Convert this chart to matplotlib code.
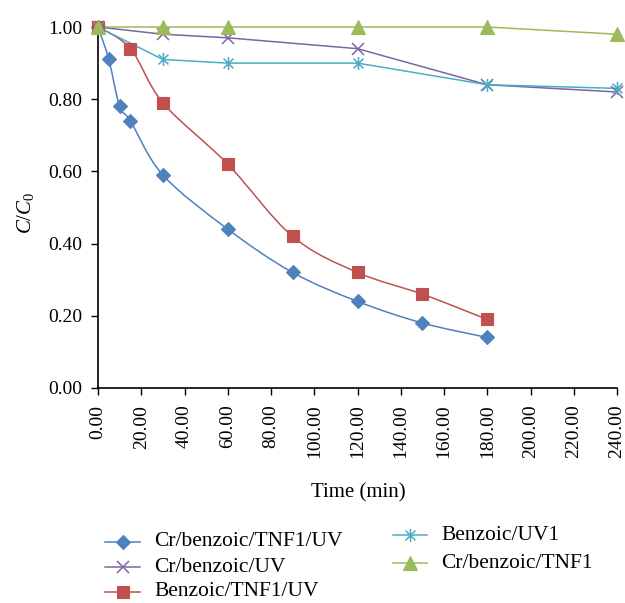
import numpy as np
import matplotlib
matplotlib.use("Agg")
import matplotlib.pyplot as plt
from matplotlib.path import Path
from matplotlib.patches import PathPatch
from matplotlib.lines import Line2D

plt.rcParams['font.family'] = ['Liberation Serif', 'DejaVu Serif']
plt.rcParams['mathtext.fontset'] = 'custom'
plt.rcParams['mathtext.rm'] = 'Liberation Serif'
plt.rcParams['mathtext.it'] = 'Liberation Serif:italic'

# Series data: time (min) and C/C0
t_cr_tnf_uv = [0, 5, 10, 15, 30, 60, 90, 120, 150, 180]
y_cr_tnf_uv = [1.00, 0.91, 0.78, 0.74, 0.59, 0.44, 0.32, 0.24, 0.18, 0.14]

t_cr_uv = [0, 30, 60, 120, 180, 240]
y_cr_uv = [1.00, 0.98, 0.97, 0.94, 0.84, 0.82]

t_bz_tnf_uv = [0, 15, 30, 60, 90, 120, 150, 180]
y_bz_tnf_uv = [1.00, 0.94, 0.79, 0.62, 0.42, 0.32, 0.26, 0.19]

t_bz_uv = [0, 30, 60, 120, 180, 240]
y_bz_uv = [1.00, 0.91, 0.90, 0.90, 0.84, 0.83]

t_cr_tnf = [0, 30, 60, 120, 180, 240]
y_cr_tnf = [1.00, 1.00, 1.00, 1.00, 1.00, 0.98]

x_ticks = np.arange(0, 241, 20)
y_ticks = np.arange(0, 1.01, 0.2)

# Six-armed asterisk marker (x plus vertical stroke)
star = Path([(0, -1), (0, 1), (-0.75, -0.75), (0.75, 0.75), (-0.75, 0.75), (0.75, -0.75)],
            [Path.MOVETO, Path.LINETO, Path.MOVETO, Path.LINETO, Path.MOVETO, Path.LINETO])

# label, x, y, colour, marker, size, smooth line
series = [
    ("Cr/benzoic/TNF1/UV", t_cr_tnf_uv, y_cr_tnf_uv, "#4F81BD", "D", 7, True),
    ("Cr/benzoic/UV", t_cr_uv, y_cr_uv, "#8064A2", "x", 8.5, False),
    ("Benzoic/TNF1/UV", t_bz_tnf_uv, y_bz_tnf_uv, "#C0504D", "s", 9, True),
    ("Benzoic/UV1", t_bz_uv, y_bz_uv, "#4BACC6", star, 9.5, False),
    ("Cr/benzoic/TNF1", t_cr_tnf, y_cr_tnf, "#9BBB59", "^", 9.5, False),
]


def smooth_path(ax, xs, ys):
    """Cardinal-spline (Bezier) path through the points, built in display space."""
    pts = ax.transData.transform(np.column_stack([xs, ys]))
    n = len(pts)
    verts = [pts[0]]
    codes = [Path.MOVETO]
    k = 1.0 / 6.0
    for i in range(n - 1):
        p0 = pts[i - 1] if i > 0 else pts[i]
        p1 = pts[i]
        p2 = pts[i + 1]
        p3 = pts[i + 2] if i + 2 < n else pts[i + 1]
        c1 = p1 + (p2 - p0) * k
        c2 = p2 - (p3 - p1) * k
        verts += [c1, c2, p2]
        codes += [Path.CURVE4] * 3
    return Path(verts, codes)


W, H = 625, 603
fig = plt.figure(figsize=(W / 100, H / 100), dpi=100)
ax = fig.add_axes([98 / W, 1 - 388 / H, (617 - 98) / W, (388 - 27) / H])
ax.set_xlim(0, 240)
ax.set_ylim(0, 1.0)
fig.canvas.draw()

LW = 1.1


def marker_style(color, marker, ms):
    open_marker = marker in ("x",) or isinstance(marker, Path)
    return dict(marker=marker, markersize=ms,
                markerfacecolor="none" if open_marker else color,
                markeredgecolor=color,
                markeredgewidth=1.1 if open_marker else 0.8)


for label, xs, ys, color, marker, ms, smooth in series:
    if smooth:
        patch = PathPatch(smooth_path(ax, xs, ys), facecolor="none", edgecolor=color,
                          lw=LW, transform=None, clip_on=False, zorder=2)
        ax.add_artist(patch)
    else:
        ax.plot(xs, ys, color=color, lw=LW, clip_on=False, zorder=2)
    ax.plot(xs, ys, linestyle="none", clip_on=False, zorder=3,
            **marker_style(color, marker, ms))

ax.set_xticks(x_ticks)
ax.set_xticklabels([f"{v:.2f}" for v in x_ticks], rotation=90, fontsize=14)
ax.set_yticks(y_ticks)
ax.set_yticklabels([f"{v:.2f}" for v in y_ticks], fontsize=14)
ax.tick_params(direction="out", length=5, width=1, color="black")
ax.tick_params(axis="x", pad=7)
ax.tick_params(axis="y", pad=6)
for s in ["top", "right"]:
    ax.spines[s].set_visible(False)
ax.spines["left"].set_linewidth(1.2)
ax.spines["bottom"].set_linewidth(1.2)

ax.set_xlabel("Time (min)", fontsize=15, va="center")
ax.xaxis.set_label_coords((358 - 98) / 519, -(493 - 388) / 361)
ax.set_ylabel("$C/C_0$", fontsize=15, va="center")
ax.yaxis.set_label_coords(-(98 - 25) / 519, 0.5 - (212 - 207) / 361)

# Legend laid out in two columns below the axes
legend_rows = [
    (0, 105, 140, 154, 542),
    (1, 105, 140, 154, 567),
    (2, 105, 140, 154, 592),
    (3, 393, 427, 441, 535),
    (4, 393, 427, 441, 563),
]
for idx, x0, x1, xt, yc in legend_rows:
    label, xs, ys, color, marker, ms, smooth = series[idx]
    yf = 1 - yc / H
    fig.add_artist(Line2D([x0 / W, x1 / W], [yf, yf], color=color, lw=LW,
                          transform=fig.transFigure))
    fig.add_artist(Line2D([(x0 + x1) / 2 / W], [yf], linestyle="none",
                          transform=fig.transFigure, **marker_style(color, marker, ms)))
    fig.text(xt / W, yf, label, fontsize=15.5, va="center", ha="left")

fig.savefig("out.png", dpi=100)
